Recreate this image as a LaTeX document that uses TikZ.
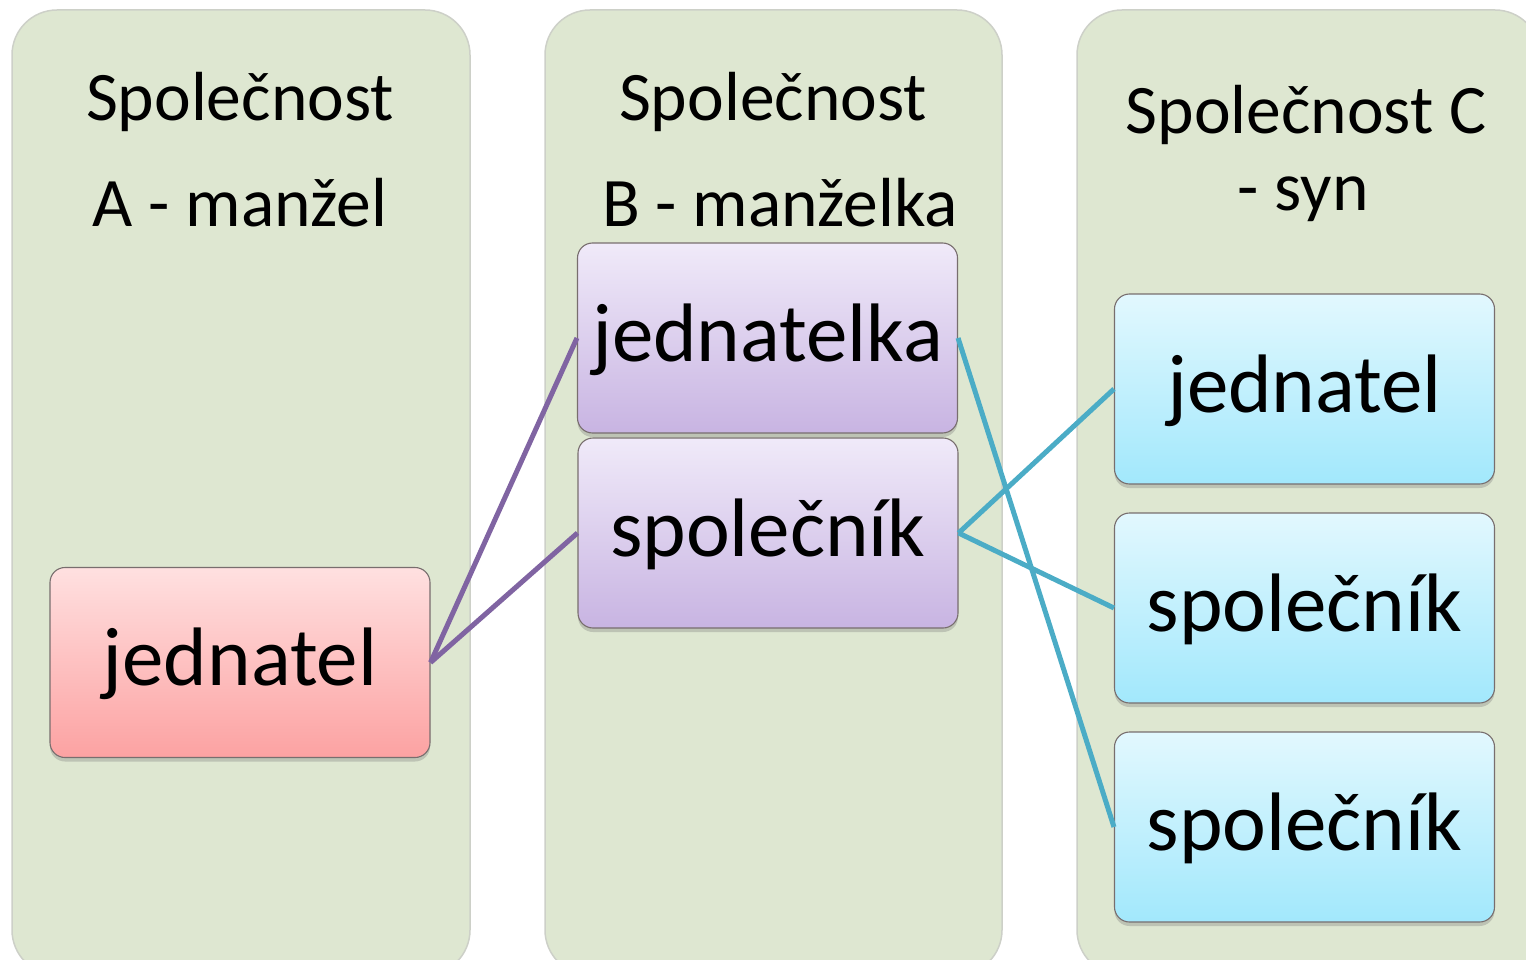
\documentclass[tikz,border=0pt]{standalone}
\usepackage{fontspec}
\setmainfont{Carlito}
\usetikzlibrary{shadows}
\definecolor{colbg}{RGB}{222,231,209}
\definecolor{coledge}{RGB}{205,208,200}
\definecolor{redtop}{RGB}{255,224,224}
\definecolor{redbot}{RGB}{252,162,162}
\definecolor{purtop}{RGB}{240,234,249}
\definecolor{purbot}{RGB}{200,180,226}
\definecolor{cyantop}{RGB}{226,248,254}
\definecolor{cyanbot}{RGB}{162,232,252}
\definecolor{boxline}{RGB}{120,110,110}
\definecolor{purline}{RGB}{128,100,162}
\definecolor{cyanline}{RGB}{75,172,198}
\begin{document}
\begin{tikzpicture}[x=1pt,y=-1pt,
  colstyle/.style={fill=colbg, draw=coledge, line width=1.5pt, rounded corners=45pt},
  titlestyle/.style={font=\fontsize{69.5}{80}\selectfont, anchor=base, inner sep=0pt},
  boxbase/.style={draw=boxline, line width=1.1pt, rounded corners=15pt,
    minimum width=380pt, minimum height=190pt, inner sep=0pt,
    font=\fontsize{83}{90}\selectfont,
    drop shadow={opacity=0.35, shadow xshift=0pt, shadow yshift=-4pt}},
  redbox/.style={boxbase, top color=redtop, bottom color=redbot},
  purbox/.style={boxbase, top color=purtop, bottom color=purbot},
  cyanbox/.style={boxbase, top color=cyantop, bottom color=cyanbot},
  purconn/.style={draw=purline, line width=5pt},
  cyanconn/.style={draw=cyanline, line width=5pt}]
\newcommand{\boxtext}[1]{\raisebox{-23pt}[0pt][0pt]{#1}}
\useasboundingbox (0,0) rectangle (1526,960);
% columns
\path[colstyle] (12,10) rectangle (470,975);
\path[colstyle] (545,10) rectangle (1002,975);
\path[colstyle] (1077,10) rectangle (1540,975);
% titles
\node[titlestyle] (tA1) at (240,121) {Společnost};
\node[titlestyle] (tA2) at (240,227) {A - manžel};
\node[titlestyle] (tB1) at (773,121) {Společnost};
\node[titlestyle] (tB2) at (780,227) {B - manželka};
\node[titlestyle] (tC1) at (1306,134) {Společnost C};
\node[titlestyle] (tC2) at (1303,211) {- syn};
% boxes
\node[redbox] (aj) at (240,662.5) {\boxtext{jednatel}};
\node[purbox] (bj) at (767.5,338) {\boxtext{jednatelka}};
\node[purbox] (bs) at (768,533) {\boxtext{společník}};
\node[cyanbox] (cj) at (1304.5,389) {\boxtext{jednatel}};
\node[cyanbox] (cs1) at (1304.5,608) {\boxtext{společník}};
\node[cyanbox] (cs2) at (1304.5,827) {\boxtext{společník}};
% connectors
\draw[purconn] (aj.east) -- (bj.west);
\draw[purconn] (aj.east) -- (bs.west);
\draw[cyanconn] (bj.east) -- (cs2.west);
\draw[cyanconn] (bs.east) -- (cj.west);
\draw[cyanconn] (bs.east) -- (cs1.west);
\end{tikzpicture}
\end{document}
